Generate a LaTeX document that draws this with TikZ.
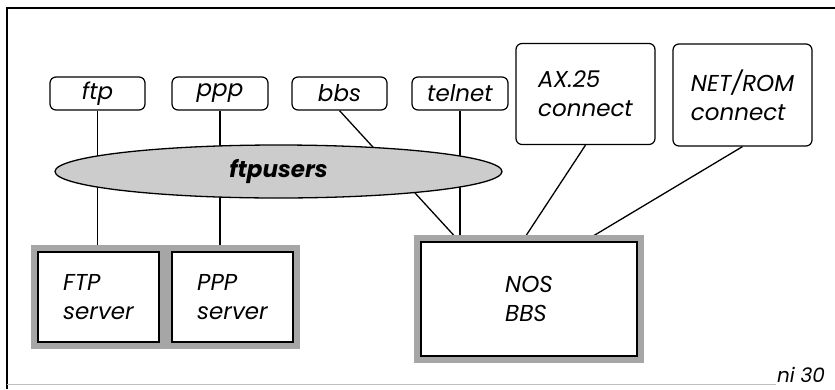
\documentclass[tikz,border=0pt]{standalone}
\usepackage{fontspec}
\setmainfont{Poppins}
\usetikzlibrary{shapes.geometric,backgrounds,calc}

\begin{document}
\begin{tikzpicture}[x=1pt,y=-1pt,
  font=\fontsize{23}{29}\selectfont\itshape,
  tag/.style={draw, rounded corners=6pt, line width=1.2pt, inner sep=0pt, align=left},
  server/.style={draw, fill=white, line width=1.4pt, inner sep=0pt, align=left,
    preaction={draw=black!35, line width=14pt}}]
\useasboundingbox (0,0) rectangle (835,389);

% frame
\draw[line width=1.3pt] (7,389) -- (7,8) -- (835,8);
\draw[black!25, line width=1pt] (7,384) -- (776,384);

\node[tag, minimum width=95pt, minimum height=33pt] (1) at (97.5,93.5) {ftp};
\node[tag, minimum width=96pt, minimum height=33pt] (2) at (220,93.5) {ppp};
\node[tag, minimum width=95pt, minimum height=33pt] (3) at (339.5,93.5) {bbs};
\node[tag, minimum width=96pt, minimum height=33pt] (4) at (460,93.5) {telnet};

\node[tag, minimum width=139pt, minimum height=101pt] (5) at (585.5,94)
{AX.25\\connect};
\node[tag, minimum width=139pt, minimum height=102pt] (6) at (742.5,95)
{NET/ROM\\connect};

\node[ellipse, draw, fill=black!20, line width=1.3pt, minimum width=447pt,
  minimum height=53pt, inner sep=0pt,
  font=\fontsize{23}{29}\selectfont\bfseries\itshape] (7) at (278.5,171.5)
{ftpusers};

\node[server, minimum width=121pt, minimum height=90pt] (8) at (98.5,297)
{FTP\\server};
\node[server, minimum width=121pt, minimum height=90pt] (9) at (232.5,297)
{PPP\\server};
\node[server, minimum width=216pt, minimum height=114pt] (10) at (529,299)
{NOS\\BBS};

\begin{pgfonlayer}{background}
\draw[line width=1.3pt] (1.south) -- (1.south |- 8.north);
\draw[line width=1.3pt] (2.south) -- (2.south |- 9.north);
\draw[line width=1.3pt] (3.south) -- ($(10.north west)+(39,0)$);
\draw[line width=1.3pt] (4.south) -- (4.south |- 10.north);
\draw[line width=1.3pt] (5.south) -- ($(10.north west)+(102,0)$);
\draw[line width=1.3pt] (6.south) -- ($(10.north west)+(164,0)$);
\end{pgfonlayer}

\node[anchor=base, font=\fontsize{20}{24}\selectfont\itshape] (11) at (801,382) {ni 30};
\end{tikzpicture}
\end{document}
